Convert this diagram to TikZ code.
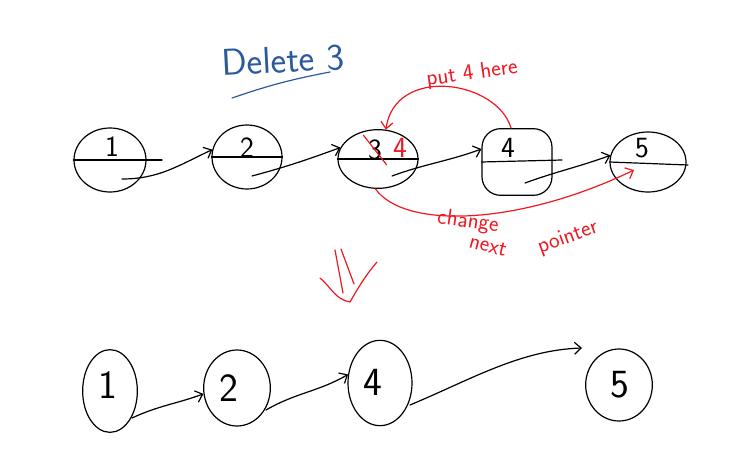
\documentclass[tikz,border=0pt]{standalone}
\usetikzlibrary{arrows.meta,shapes.geometric}
\definecolor{inkblue}{HTML}{2A5A9C}
\definecolor{inkred}{HTML}{F01820}
\tikzset{
  x=0.75pt,y=-0.75pt,
  pen/.style={line width=0.9pt,line cap=round,line join=round},
  nodeel/.style={ellipse,draw,pen,inner sep=0pt},
  arr/.style={pen,-{Straight Barb[length=5pt,width=9pt]}},
  redarr/.style={pen,inkred,-{Straight Barb[length=5pt,width=9pt]}},
  lbltop/.style={font=\sffamily\fontsize{22}{22}\selectfont},
  lblbot/.style={font=\sffamily\fontsize{30}{30}\selectfont},
  redtxt/.style={text=inkred,font=\sffamily\fontsize{17}{17}\selectfont,inner sep=0pt},
}
\begin{document}
\begin{tikzpicture}
\useasboundingbox (0,0) rectangle (753,460);
% title
\node[text=inkblue,font=\sffamily\fontsize{28}{28}\selectfont,rotate=3] (title) at (283,60) {Delete 3};
\coordinate (ul1) at (232,98);
\coordinate (ul2) at (330,72);
\draw[pen,inkblue] (ul1) to[bend left=4] (ul2);
% top row nodes
\node[nodeel,minimum width=54pt,minimum height=48pt] (t1) at (110,160) {};
\node[nodeel,minimum width=52.5pt,minimum height=48pt] (t2) at (247,157) {};
\node[nodeel,minimum width=60pt,minimum height=44pt] (t3) at (378,159) {};
\node[draw,pen,rounded corners=14pt,minimum width=52.5pt,minimum height=50pt] (t4) at (517,162) {};
\node[nodeel,minimum width=57pt,minimum height=45pt] (t5) at (648,162) {};
% dividers
\coordinate (d1) at (162,160);
\coordinate (d4) at (562,160);
\coordinate (d5) at (688,165);
\draw[pen] (t1.west) -- (d1);
\draw[pen] (t2.west) -- (t2.east);
\draw[pen] (t3.west) -- (t3.east);
\draw[pen] (t4.west) -- (d4);
\draw[pen] (t5.west) -- (d5);
% labels
\node[lbltop] (l1) at (112,147) {1};
\node[lbltop] (l2) at (247,148) {2};
\node[lbltop] (l3) at (375,150) {3};
\node[lbltop,text=inkred] (l34) at (400,148) {4};
\draw[pen,inkred] (l3.north west) -- (l3.south east);
\node[lbltop] (l4) at (508,148) {4};
\node[lbltop] (l5) at (642,148) {5};
% pointer starts inside nodes
\coordinate (p1) at (122,179);
\coordinate (p2) at (252,176);
\coordinate (p3) at (392,176);
\coordinate (p4) at (525,183);
% top arrows
\draw[arr] (p1) to[out=0,in=205] (t2.168);
\draw[arr] (p2) to[out=15,in=200] (t3.163);
\draw[arr] (p3) to[out=20,in=200] (t4.160);
\draw[arr] (p4) to[out=20,in=200] (t5.170);
% red arcs
\coordinate (r5) at (634,170);
\draw[redarr] (t4.100) .. controls (497,80) and (395,65) .. (t3.75);
\draw[redarr] (t3.265) .. controls (405,230) and (520,225) .. (r5);
\node[redtxt,rotate=8] (put) at (472,74) {put 4 here};
\node[redtxt,rotate=-8] (chg) at (468,222) {change};
\node[redtxt,rotate=-15] (nxt) at (488,246) {next};
\node[redtxt,rotate=20] (ptr) at (568,238) {pointer};
% red double down arrow
\coordinate (da) at (350,302);
\coordinate (dl) at (320,278);
\coordinate (dr) at (377,262);
\coordinate (s1a) at (335,250);
\coordinate (s1b) at (343,293);
\coordinate (s2a) at (341,249);
\coordinate (s2b) at (354,284);
\draw[pen,inkred] (s1a) -- (s1b);
\draw[pen,inkred] (s2a) -- (s2b);
\draw[pen,inkred] (dl) to[out=-40,in=170] (da) to[out=60,in=-130] (dr);
% bottom row
\node[nodeel,minimum width=41pt,minimum height=62pt] (b1) at (110,391) {};
\node[nodeel,minimum width=50pt,minimum height=57pt] (b2) at (237,388) {};
\node[nodeel,minimum width=48pt,minimum height=64pt] (b4) at (380,383) {};
\node[nodeel,minimum width=50pt,minimum height=54pt] (b5) at (619,385) {};
\node[lblbot] (m1) at (108,385) {1};
\node[lblbot] (m2) at (229,388) {2};
\node[lblbot] (m4) at (373,382) {4};
\node[lblbot] (m5) at (620,385) {5};
\coordinate (q1) at (132,418);
\coordinate (q2) at (266,410);
\coordinate (q4) at (410,405);
\coordinate (e5) at (582,348);
\draw[arr] (q1) to[out=25,in=200] (b2.190);
\draw[arr] (q2) to[out=30,in=210] (b4.165);
\draw[arr] (q4) .. controls (470,380) and (520,350) .. (e5);
\end{tikzpicture}
\end{document}
